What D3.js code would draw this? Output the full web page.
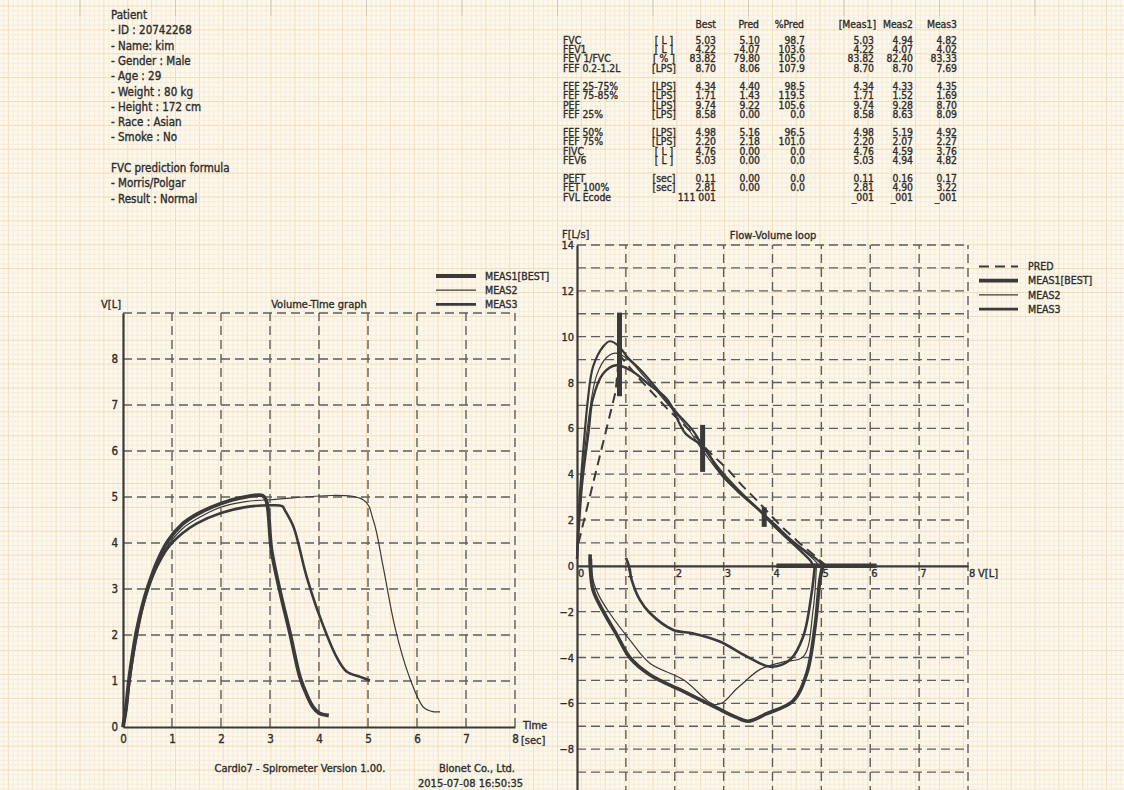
<!DOCTYPE html>
<html>
<head>
<meta charset="utf-8">
<script src="https://cdn.jsdelivr.net/npm/d3@7"></script>
<style>
  body { margin: 0; background: #fcf8ed; }
  svg text { font-family: "DejaVu Sans Condensed", "DejaVu Sans", sans-serif; font-stretch: condensed;
    fill: #2e2e2e; stroke: #2e2e2e; stroke-width: 0.35px; paint-order: stroke; }
</style>
</head>
<body>
<svg id="sheet"></svg>
<script>
// ---- data ----
var patientLines = ["Patient", "- ID :  20742268", "- Name:  kim", "- Gender :  Male", "- Age :  29",
  "- Weight :  80 kg", "- Height :  172 cm", "- Race :  Asian", "- Smoke :  No", "",
  "FVC prediction formula", "- Morris/Polgar", "- Result :  Normal"];

var tblHeader = ["Best", "Pred", "%Pred", "[Meas1]", "Meas2", "Meas3"];
var tblLabels = ["FVC", "FEV1", "FEV 1/FVC", "FEF 0.2-1.2L", "FEF 25-75%", "FEF 75-85%", "PEF", "FEF 25%",
  "FEF 50%", "FEF 75%", "FIVC", "FEV6", "PEFT", "FET 100%", "FVL Ecode"];
var tblUnits = ["[ L ]", "[ L ]", "[ % ]", "[LPS]", "[LPS]", "[LPS]", "[LPS]", "[LPS]", "[LPS]", "[LPS]",
  "[ L ]", "[ L ]", "[sec]", "[sec]", ""];
var bestVals = ["5.03", "4.22", "83.82", "8.70", "4.34", "1.71", "9.74", "8.58", "4.98", "2.20", "4.76", "5.03", "0.11", "2.81", "111 001"];
var predVals = ["5.10", "4.07", "79.80", "8.06", "4.40", "1.43", "9.22", "0.00", "5.16", "2.18", "0.00", "0.00", "0.00", "0.00", ""];
var pctPredVals = ["98.7", "103.6", "105.0", "107.9", "98.5", "119.5", "105.6", "0.0", "96.5", "101.0", "0.0", "0.0", "0.0", "0.0", ""];
var meas1Vals = ["5.03", "4.22", "83.82", "8.70", "4.34", "1.71", "9.74", "8.58", "4.98", "2.20", "4.76", "5.03", "0.11", "2.81", "_001"];
var meas2Vals = ["4.94", "4.07", "82.40", "8.70", "4.33", "1.52", "9.28", "8.63", "5.19", "2.07", "4.59", "4.94", "0.16", "4.90", "_001"];
var meas3Vals = ["4.82", "4.02", "83.33", "7.69", "4.35", "1.69", "8.70", "8.09", "4.92", "2.27", "3.76", "4.82", "0.17", "3.22", "_001"];

// volume-time curves [sec, L]
var vtMeas1 = [[0,0],[0.06,0.4],[0.12,1.0],[0.2,1.6],[0.28,2.1],[0.4,2.65],[0.51,3.05],[0.7,3.6],[0.92,4.05],
  [1.2,4.4],[1.5,4.62],[2.0,4.86],[2.4,4.98],[2.85,5.03],[2.93,4.9],[3.03,3.85],[3.2,2.97],[3.41,2.03],
  [3.61,1.09],[3.75,0.7],[3.88,0.43],[4.0,0.3],[4.2,0.25]];
var vtMeas2 = [[0,0],[0.06,0.4],[0.12,1.0],[0.2,1.55],[0.3,2.15],[0.4,2.65],[0.51,3.0],[0.7,3.55],[0.92,3.95],
  [1.2,4.3],[1.5,4.52],[2.0,4.78],[2.5,4.9],[3.0,4.94],[4.9,4.94],[5.11,4.49],[5.31,3.48],[5.55,2.17],
  [5.82,1.16],[6.13,0.43],[6.3,0.34],[6.47,0.33]];
var vtMeas3 = [[0,0],[0.06,0.35],[0.12,0.9],[0.2,1.5],[0.3,2.1],[0.4,2.6],[0.51,3.0],[0.7,3.5],[0.92,3.9],
  [1.2,4.2],[1.5,4.42],[2.0,4.65],[2.5,4.78],[3.0,4.82],[3.25,4.8],[3.31,4.7],[3.48,4.35],[3.75,3.26],
  [4.02,2.39],[4.36,1.52],[4.57,1.2],[4.84,1.09],[5.04,1.01]];
var vtYTicks = [0, 1, 2, 3, 4, 5, 6, 7, 8];
var vtXTicks = [0, 1, 2, 3, 4, 5, 6, 7, 8];

// flow-volume curves [L, L/s]
var fvPred = [[0.03,1.0],[0.79,7.6],[0.86,9.22],[1.3,8.1],[1.85,6.85],[2.36,5.8],[2.69,5.0],[3.09,4.2],
  [3.38,3.5],[3.67,2.88],[4.18,1.72],[4.55,1.0],[4.84,0.48],[5.1,0]];
var fvExp1 = [[0,0.3],[0.04,2.5],[0.13,5.07],[0.22,7.2],[0.33,8.7],[0.54,9.58],[0.67,9.8],[0.85,9.6],
  [1.02,9.14],[1.36,8.42],[1.7,7.55],[2.04,6.68],[2.38,5.88],[2.58,5.2],[2.94,4.15],[3.31,3.3],[3.67,2.55],
  [4.04,1.82],[4.4,1.1],[4.7,0.6],[4.95,0.2],[5.03,0]];
var fvExp2 = [[0,0.5],[0.08,3],[0.2,5.8],[0.4,8.3],[0.61,9.1],[0.8,9.28],[1.05,9.0],[1.4,8.2],[1.8,7.2],
  [2.2,6.2],[2.55,5.1],[2.9,4.1],[3.3,3.2],[3.7,2.45],[4.05,1.75],[4.4,1.05],[4.7,0.55],[4.9,0.15],[4.94,0]];
var fvExp3 = [[0,0.3],[0.1,3.5],[0.24,5.9],[0.32,7.25],[0.54,8.4],[0.8,8.75],[1.12,8.5],[1.48,7.9],[1.85,7.25],
  [2.21,5.8],[2.58,5.2],[2.95,4.0],[3.3,3.25],[3.7,2.5],[4.05,1.7],[4.35,1.1],[4.6,0.6],[4.8,0.15],[4.82,0]];
var fvInsp1 = [[0.27,0.5],[0.27,0],[0.33,-1.06],[0.54,-2.0],[0.81,-3.0],[1.08,-4.0],[1.49,-4.75],[2.17,-5.47],
  [2.86,-6.2],[3.25,-6.6],[3.5,-6.78],[3.88,-6.45],[4.42,-5.9],[4.7,-4.7],[4.87,-2.65],[4.97,-0.62],[5.04,0.1]];
var fvInsp2 = [[0.3,0.3],[0.33,-0.62],[0.45,-1.3],[0.67,-2.07],[1.08,-3.23],[1.49,-4.25],[2.17,-4.96],
  [2.86,-6.06],[3.3,-5.3],[3.74,-4.53],[4.2,-4.2],[4.63,-3.96],[4.83,-1.93],[4.9,0.1]];
var fvInsp3 = [[1.0,0.35],[1.06,0],[1.12,-0.62],[1.29,-1.5],[1.49,-2.06],[1.97,-2.8],[2.38,-2.95],[2.92,-3.3],
  [3.47,-3.95],[3.95,-4.4],[4.36,-4.1],[4.63,-3.07],[4.8,-1.2],[4.87,0.1]];
var fvMarkV = [0.87, 2.57, 3.83];
var fvMarkLo = [7.4, 4.1, 1.7];
var fvMarkHi = [11.05, 6.15, 2.55];
var fvAxisBar = [4.08, 6.13];
var fvYTicks = [14, 12, 10, 8, 6, 4, 2, 0, -2, -4, -6, -8];
var fvXTicks = [0, 1, 2, 3, 4, 5, 6, 7, 8];

var W = 1124, H = 790;
var ink = "#3a3a3a";
var gridInk = "#5e5e5e";
var dash = "9,5";
var svg = d3.select("#sheet").attr("width", W).attr("height", H);

// ---- graph paper ----
svg.append("rect").attr("width", W).attr("height", H).attr("fill", "#fcf8ed");
var minor = 95.5 / 20;
var paper = svg.append("g");
for (var i = -20; 80 + i * minor < W; i++) {
  var x = 80 + i * minor;
  if (x < 0) continue;
  var major = ((i % 5) + 5) % 5 == 0;
  paper.append("line").attr("x1", x).attr("x2", x).attr("y1", 0).attr("y2", H)
    .attr("stroke", major ? "#f1dcb8" : "#f6ead3").attr("stroke-width", major ? 1 : 0.8);
}
for (var j = 0; j * minor < H + minor; j++) {
  var y = 6 + j * minor;
  paper.append("line").attr("x1", 0).attr("x2", W).attr("y1", y).attr("y2", y)
    .attr("stroke", j % 5 == 0 ? "#f1dcb8" : "#f6ead3").attr("stroke-width", j % 5 == 0 ? 1 : 0.8);
}
// fold marks along the top edge
for (var m = 0; m < 11; m++) {
  paper.append("line").attr("x1", 80 + m * 95.5).attr("x2", 80 + m * 95.5).attr("y1", 0).attr("y2", 16)
    .attr("stroke", "#cfc9bc").attr("stroke-width", 1);
}

// ---- patient block ----
svg.append("g").selectAll("text").data(patientLines).join("text")
  .attr("x", 111).attr("y", function(d, i) { return 15 + i * 15.3; }).attr("dy", "0.35em")
  .attr("font-size", 11.5).text(function(d) { return d; });

// ---- result table ----
function rowY(i) { return 40 + Math.floor(i / 4) * 46.1 + (i % 4) * 9.4; }
var tbl = svg.append("g").attr("font-size", 10.3);
var colRight = [716, 760, 805, 874, 913, 957];
var headerRight = [716, 759, 804, 876, 913, 957];
tbl.selectAll("text.h").data(tblHeader).join("text").attr("class", "h")
  .attr("x", function(d, i) { return headerRight[i]; }).attr("y", 24).attr("dy", "0.35em")
  .attr("text-anchor", "end").text(function(d) { return d; });
tbl.selectAll("text.lab").data(tblLabels).join("text").attr("class", "lab")
  .attr("x", 563).attr("y", function(d, i) { return rowY(i); }).attr("dy", "0.35em").text(function(d) { return d; });
tbl.selectAll("text.unit").data(tblUnits).join("text").attr("class", "unit")
  .attr("x", 664).attr("y", function(d, i) { return rowY(i); }).attr("dy", "0.35em")
  .attr("text-anchor", "middle").text(function(d) { return d; });
[bestVals, predVals, pctPredVals, meas1Vals, meas2Vals, meas3Vals].forEach(function(col, c) {
  tbl.append("g").selectAll("text").data(col).join("text")
    .attr("x", colRight[c]).attr("y", function(d, i) { return rowY(i); }).attr("dy", "0.35em")
    .attr("text-anchor", "end").text(function(d) { return d; });
});

// ---- Volume-Time graph ----
var vtX = d3.scaleLinear().domain([0, 8]).range([123, 515]);
var vtY = d3.scaleLinear().domain([0, 9]).range([727, 313]);
var vt = svg.append("g");
d3.range(1, 10).forEach(function(v) {
  vt.append("line").attr("x1", vtX(0)).attr("x2", vtX(8)).attr("y1", vtY(v)).attr("y2", vtY(v))
    .attr("stroke", gridInk).attr("stroke-width", 1.4).attr("stroke-dasharray", dash);
});
d3.range(1, 9).forEach(function(t) {
  vt.append("line").attr("x1", vtX(t)).attr("x2", vtX(t)).attr("y1", vtY(0)).attr("y2", vtY(9))
    .attr("stroke", gridInk).attr("stroke-width", 1.4).attr("stroke-dasharray", dash);
});
var vtLeft = vt.append("g").attr("transform", "translate(" + vtX(0) + ",0)")
  .call(d3.axisLeft(vtY).tickValues(vtYTicks).tickSize(0).tickSizeOuter(0).tickPadding(5).tickFormat(d3.format("d")));
var vtBottom = vt.append("g").attr("transform", "translate(0," + vtY(0) + ")")
  .call(d3.axisBottom(vtX).tickValues(vtXTicks).tickSize(0).tickSizeOuter(0).tickPadding(8).tickFormat(d3.format("d")));
[vtLeft, vtBottom].forEach(function(a) {
  a.select(".domain").attr("stroke", ink).attr("stroke-width", 2.2);
  a.selectAll("text").attr("font-size", 11.5)
    .attr("font-family", "'DejaVu Sans Condensed', 'DejaVu Sans', sans-serif");
});

var vtLine = d3.line().x(function(d) { return vtX(d[0]); }).y(function(d) { return vtY(d[1]); }).curve(d3.curveCatmullRom);
vt.append("path").datum(vtMeas2).attr("d", vtLine).attr("fill", "none").attr("stroke", ink).attr("stroke-width", 1.2);
vt.append("path").datum(vtMeas3).attr("d", vtLine).attr("fill", "none").attr("stroke", ink).attr("stroke-width", 2.6);
vt.append("path").datum(vtMeas1).attr("d", vtLine).attr("fill", "none").attr("stroke", ink).attr("stroke-width", 3.8);

vt.append("text").attr("x", 101).attr("y", 304).attr("dy", "0.35em").attr("font-size", 11).text("V[L]");
vt.append("text").attr("x", 319).attr("y", 304).attr("dy", "0.35em").attr("text-anchor", "middle").attr("font-size", 11).text("Volume-Time graph");
vt.append("text").attr("x", 523).attr("y", 725).attr("dy", "0.35em").attr("font-size", 11).text("Time");
vt.append("text").attr("x", 521).attr("y", 740).attr("dy", "0.35em").attr("font-size", 11).text("[sec]");

var vtLegend = [["MEAS1[BEST]", 3.8], ["MEAS2", 1.2], ["MEAS3", 2.6]];
vtLegend.forEach(function(d, i) {
  var y = 276 + i * 14.2;
  vt.append("line").attr("x1", 436).attr("x2", 476).attr("y1", y).attr("y2", y).attr("stroke", ink).attr("stroke-width", d[1]);
  vt.append("text").attr("x", 485).attr("y", y).attr("dy", "0.35em").attr("font-size", 10.5).text(d[0]);
});

// footer
svg.append("text").attr("x", 300).attr("y", 768).attr("dy", "0.35em").attr("text-anchor", "middle").attr("font-size", 11)
  .text("Cardio7 - Spirometer Version 1.00.");
svg.append("text").attr("x", 439).attr("y", 768).attr("dy", "0.35em").attr("font-size", 11).text("Bionet Co., Ltd.");
svg.append("text").attr("x", 418).attr("y", 783).attr("dy", "0.35em").attr("font-size", 11).text("2015-07-08 16:50:35");

// ---- Flow-Volume loop ----
var fvX = d3.scaleLinear().domain([0, 8]).range([577, 968]);
var fvY = d3.scaleLinear().domain([-10, 14]).range([795, 245]);
var fv = svg.append("g");
d3.range(-10, 15).forEach(function(v) {
  if (v === 0) return;
  fv.append("line").attr("x1", fvX(0)).attr("x2", fvX(8)).attr("y1", fvY(v)).attr("y2", fvY(v))
    .attr("stroke", gridInk).attr("stroke-width", 1.4).attr("stroke-dasharray", dash);
});
d3.range(1, 9).forEach(function(t) {
  fv.append("line").attr("x1", fvX(t)).attr("x2", fvX(t)).attr("y1", fvY(-10)).attr("y2", fvY(14))
    .attr("stroke", gridInk).attr("stroke-width", 1.4).attr("stroke-dasharray", dash);
});
var fvLeft = fv.append("g").attr("transform", "translate(" + fvX(0) + ",0)")
  .call(d3.axisLeft(fvY).tickValues(fvYTicks).tickSize(0).tickSizeOuter(0).tickPadding(3).tickFormat(d3.format("d")));
var fvBottom = fv.append("g").attr("transform", "translate(0," + fvY(0) + ")")
  .call(d3.axisBottom(fvX).tickValues(fvXTicks).tickSize(0).tickSizeOuter(0).tickPadding(3).tickFormat(d3.format("d")));
fvBottom.selectAll("text").attr("text-anchor", "start").attr("dx", "0.5");
[fvLeft, fvBottom].forEach(function(a) {
  a.select(".domain").attr("stroke", ink).attr("stroke-width", 2.2);
  a.selectAll("text").attr("font-size", 11)
    .attr("font-family", "'DejaVu Sans Condensed', 'DejaVu Sans', sans-serif");
});

var fvLine = d3.line().x(function(d) { return fvX(d[0]); }).y(function(d) { return fvY(d[1]); }).curve(d3.curveCatmullRom);
fv.append("path").datum(fvPred).attr("d", d3.line().x(function(d) { return fvX(d[0]); }).y(function(d) { return fvY(d[1]); }))
  .attr("fill", "none").attr("stroke", ink).attr("stroke-width", 2).attr("stroke-dasharray", "10,6");
[[fvExp2, 1.2], [fvInsp2, 1.2], [fvExp3, 2.4], [fvInsp3, 2.6], [fvExp1, 2.2], [fvInsp1, 3.6]].forEach(function(s) {
  fv.append("path").datum(s[0]).attr("d", fvLine).attr("fill", "none").attr("stroke", ink).attr("stroke-width", s[1]);
});
fvMarkV.forEach(function(v, i) {
  fv.append("line").attr("x1", fvX(v)).attr("x2", fvX(v)).attr("y1", fvY(fvMarkLo[i])).attr("y2", fvY(fvMarkHi[i]))
    .attr("stroke", ink).attr("stroke-width", 5);
});
fv.append("line").attr("x1", fvX(fvAxisBar[0])).attr("x2", fvX(fvAxisBar[1])).attr("y1", fvY(0)).attr("y2", fvY(0))
  .attr("stroke", ink).attr("stroke-width", 4.5);

fv.append("text").attr("x", 562).attr("y", 234).attr("dy", "0.35em").attr("font-size", 11).text("F[L/s]");
fv.append("text").attr("x", 773).attr("y", 235).attr("dy", "0.35em").attr("text-anchor", "middle").attr("font-size", 11).text("Flow-Volume loop");
fv.append("text").attr("x", 978).attr("y", 573).attr("dy", "0.35em").attr("font-size", 11).text("V[L]");

var fvLegend = [["PRED", 2, "10,6"], ["MEAS1[BEST]", 3.8, null], ["MEAS2", 1.2, null], ["MEAS3", 2.6, null]];
fvLegend.forEach(function(d, i) {
  var y = 266.5 + i * 14.2;
  fv.append("line").attr("x1", 979).attr("x2", 1018).attr("y1", y).attr("y2", y).attr("stroke", ink)
    .attr("stroke-width", d[1]).attr("stroke-dasharray", d[2]);
  fv.append("text").attr("x", 1028).attr("y", y).attr("dy", "0.35em").attr("font-size", 10.5).text(d[0]);
});
</script>
</body>
</html>
